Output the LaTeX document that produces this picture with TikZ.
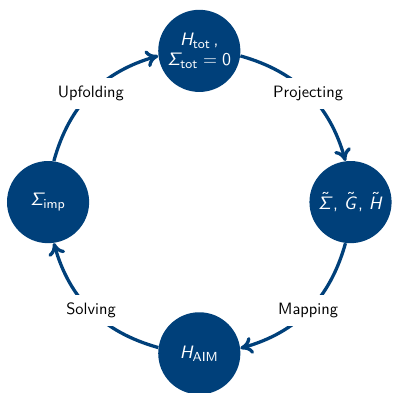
\documentclass[tikz,border=0pt]{standalone}
\usepackage{amsmath}
\renewcommand{\familydefault}{\sfdefault}
\SetMathAlphabet{\mathit}{normal}{OT1}{cmss}{m}{sl}
\SetSymbolFont{operators}{normal}{OT1}{cmss}{m}{n}
\usetikzlibrary{arrows.meta}
\definecolor{cycleblue}{HTML}{00407A}
\begin{document}
\begin{tikzpicture}[
  state/.style={circle,fill=cycleblue,text=white,minimum size=1.76cm,inner sep=0pt,align=center,font=\fontsize{11}{12}\selectfont},
  stage/.style={fill=white,text=black,inner sep=5pt},
  flow/.style={cycleblue,line width=2pt,-{To[length=7.5pt,width=10.5pt]}}
]
 \useasboundingbox (-4.27,-4.09) rectangle (4.13,4.33);
 \node[state] (tot) at (90:3.24) {$\mathit{H}_{\mathsf{tot}}$\,,\\$\mathit{\Sigma}_{\mathsf{tot}} = 0$};
 \node[state] (proj) at (0:3.24) {$\tilde{\mathit{\Sigma}}$, $\tilde{\mathit{G}}$, $\tilde{\mathit{H}}$};
 \node[state] (aim) at (270:3.24) {$\mathit{H}_{\mathsf{AIM}}$};
 \node[state] (imp) at (180:3.24) {$\mathit{\Sigma}_{\mathsf{imp}}$};
 \draw[flow] (tot.-7.8) to[bend left=29.4] node[stage] (projecting) {Projecting} (proj.97.8);
 \draw[flow] (proj.-97.8) to[bend left=29.4] node[stage] (mapping) {Mapping} (aim.7.8);
 \draw[flow] (aim.172.2) to[bend left=29.4] node[stage] (solving) {Solving} (imp.-82.2);
 \draw[flow] (imp.82.2) to[bend left=29.4] node[stage] (upfolding) {Upfolding} (tot.187.8);
\end{tikzpicture}
\end{document}
